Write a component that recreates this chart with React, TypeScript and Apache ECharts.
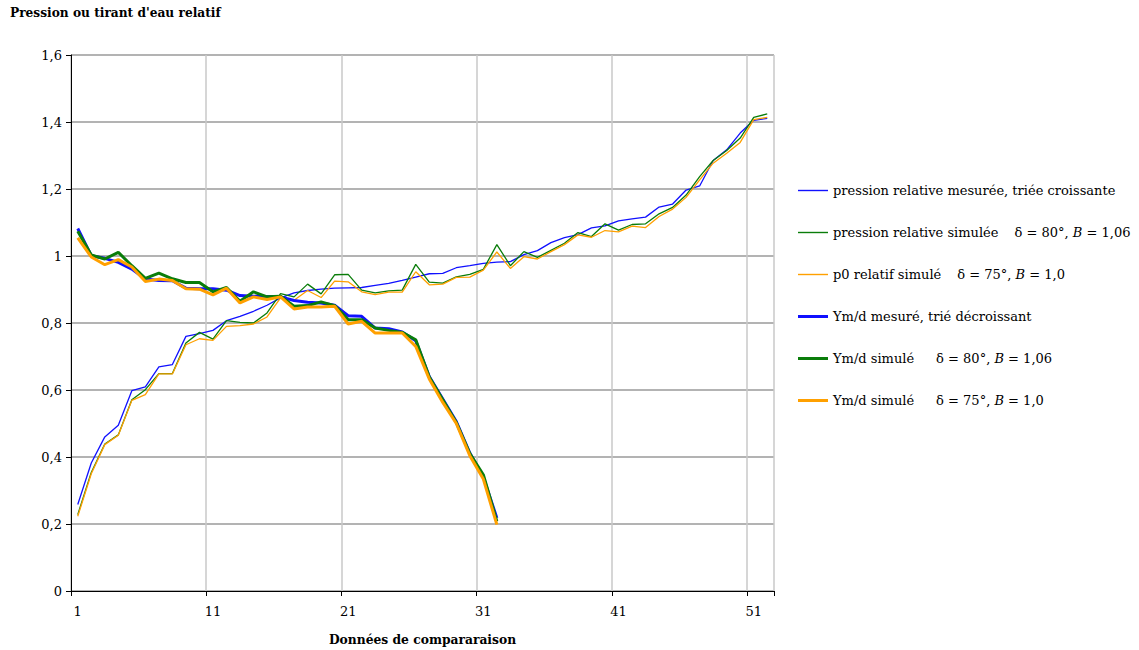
import React, { useEffect, useRef } from "react";
import * as echarts from "echarts";

const categories = [
  "1","2","3","4","5","6","7","8","9","10","11","12","13","14","15","16","17","18","19","20",
  "21","22","23","24","25","26","27","28","29","30","31","32","33","34","35","36","37","38","39","40",
  "41","42","43","44","45","46","47","48","49","50","51","52",
];

const pMesure = [
  0.258, 0.382, 0.46, 0.495, 0.598, 0.609, 0.669, 0.676, 0.76, 0.768,
  0.778, 0.807, 0.82, 0.835, 0.853, 0.875, 0.89, 0.897, 0.901, 0.904,
  0.905, 0.906, 0.912, 0.918, 0.927, 0.937, 0.947, 0.948, 0.965, 0.971,
  0.978, 0.982, 0.983, 1.004, 1.016, 1.04, 1.055, 1.064, 1.084, 1.09,
  1.105, 1.111, 1.116, 1.146, 1.155, 1.197, 1.209, 1.285, 1.317, 1.367,
  1.405, 1.411,
];

const pSim80 = [
  0.228, 0.354, 0.439, 0.466, 0.571, 0.601, 0.649, 0.649, 0.74, 0.772,
  0.752, 0.807, 0.802, 0.8, 0.83, 0.888, 0.878, 0.916, 0.887, 0.944,
  0.945, 0.898, 0.89, 0.896, 0.898, 0.975, 0.922, 0.919, 0.938, 0.945,
  0.96, 1.034, 0.971, 1.013, 0.996, 1.017, 1.038, 1.07, 1.058, 1.096,
  1.077, 1.094, 1.096, 1.126, 1.145, 1.182, 1.237, 1.285, 1.315, 1.352,
  1.414, 1.424,
];

const pSim75 = [
  0.223, 0.35, 0.437, 0.465, 0.569, 0.586, 0.648, 0.648, 0.735, 0.753,
  0.748, 0.79, 0.792, 0.797, 0.818, 0.875, 0.868, 0.897, 0.876, 0.925,
  0.923, 0.893, 0.885, 0.892, 0.892, 0.953, 0.914, 0.916, 0.936, 0.937,
  0.958, 1.012, 0.963, 0.998, 0.991, 1.013, 1.034, 1.063, 1.056, 1.076,
  1.072, 1.089, 1.085, 1.118, 1.14, 1.175, 1.227, 1.277, 1.307, 1.339,
  1.407, 1.414,
];

const ymMesure = [
  1.082, 1.001, 0.993, 0.981, 0.961, 0.931, 0.927, 0.926, 0.904, 0.902,
  0.902, 0.898, 0.882, 0.88, 0.879, 0.878, 0.867, 0.862, 0.86, 0.853,
  0.822, 0.82, 0.785, 0.783, 0.773, 0.747, 0.64, 0.573, 0.506, 0.412,
  0.34, 0.218,
];

const ymSim80 = [
  1.074, 1.003, 0.991, 1.011, 0.971, 0.933, 0.949, 0.932, 0.921, 0.921,
  0.893, 0.906, 0.865, 0.893, 0.878, 0.88, 0.85, 0.852, 0.863, 0.852,
  0.81, 0.81, 0.785, 0.778, 0.772, 0.75, 0.639, 0.571, 0.503, 0.41,
  0.347, 0.208,
];

const ymSim75 = [
  1.054, 0.997, 0.974, 0.989, 0.967, 0.924, 0.931, 0.927, 0.902, 0.901,
  0.884, 0.904, 0.86, 0.878, 0.87, 0.878, 0.842, 0.848, 0.848, 0.85,
  0.797, 0.805, 0.77, 0.77, 0.77, 0.73, 0.633, 0.563, 0.5, 0.404,
  0.334, 0.198,
];

const seriesNames = [
  "pression relative mesurée, triée croissante",
  "pression relative simulée",
  "p0 relatif simulé",
  "Ym/d mesuré, trié décroissant",
  "Ym/d simulé δ80",
  "Ym/d simulé δ75",
];

const legendLabels: Record<string, string> = {
  [seriesNames[0]]: "{a|pression relative mesurée, triée croissante}",
  [seriesNames[1]]: "{a|pression relative simulée}{s1| }{a|δ = 80°, }{i|B}{a| = 1,06}",
  [seriesNames[2]]: "{a|p0 relatif simulé}{s1| }{a|δ = 75°, }{i|B}{a| = 1,0}",
  [seriesNames[3]]: "{a|Ym/d mesuré, trié décroissant}",
  [seriesNames[4]]: "{a|Ym/d simulé}{s2| }{a|δ = 80°, }{i|B}{a| = 1,06}",
  [seriesNames[5]]: "{a|Ym/d simulé}{s2| }{a|δ = 75°, }{i|B}{a| = 1,0}",
};

const FONT = "'DejaVu Serif', 'Liberation Serif', serif";
const BLUE = "#1010ff";
const GREEN = "#0a7d0a";
const ORANGE = "#ffa000";
const THIN_ICON = "path://M0,0h30v1.4h-30z";
const THICK_ICON = "path://M0,0h30v3h-30z";

export default function App() {
  const ref = useRef<HTMLDivElement>(null);
  useEffect(() => {
    if (!ref.current) return;
    const chart = echarts.init(ref.current, undefined, { renderer: "svg" });
    const mk = (name: string, data: number[], color: string, width: number) => ({
      name,
      type: "line",
      data,
      symbol: "none",
      showSymbol: false,
      smooth: false,
      itemStyle: { color },
      lineStyle: { color, width },
      emphasis: { disabled: true },
    });
    chart.setOption({
      animation: false,
      backgroundColor: "#ffffff",
      title: {
        text: "Pression ou tirant d'eau relatif",
        left: 5,
        top: 2,
        textStyle: { fontFamily: FONT, fontSize: 12.2, fontWeight: "bold", color: "#000" },
      },
      grid: { left: 71, right: 365, top: 55, bottom: 59, containLabel: false },
      legend: {
        orient: "vertical",
        left: 793,
        top: 179,
        itemWidth: 30,
        itemHeight: 14,
        itemGap: 29,
        selectedMode: false,
        data: [
          { name: seriesNames[0], icon: THIN_ICON },
          { name: seriesNames[1], icon: THIN_ICON },
          { name: seriesNames[2], icon: THIN_ICON },
          { name: seriesNames[3], icon: THICK_ICON },
          { name: seriesNames[4], icon: THICK_ICON },
          { name: seriesNames[5], icon: THICK_ICON },
        ],
        formatter: (name: string) => legendLabels[name] || name,
        textStyle: {
          fontFamily: FONT,
          fontSize: 13,
          color: "#000",
          rich: {
            a: { fontFamily: FONT, fontSize: 13, color: "#000" },
            i: { fontFamily: FONT, fontSize: 13, color: "#000", fontStyle: "italic" },
            s1: { width: 16 },
            s2: { width: 22 },
          },
        },
      },
      xAxis: {
        type: "category",
        data: categories,
        boundaryGap: true,
        name: "Données de compararaison",
        nameLocation: "middle",
        nameGap: 42,
        nameTextStyle: { fontFamily: FONT, fontSize: 12.3, fontWeight: "bold", color: "#000" },
        axisLine: { lineStyle: { color: "#000", width: 1 } },
        axisTick: { show: true, interval: 9, length: 5, lineStyle: { color: "#000" } },
        axisLabel: {
          interval: 9,
          margin: 14,
          fontFamily: FONT,
          fontSize: 13,
          color: "#000",
        },
        splitLine: { show: true, interval: 9, lineStyle: { color: "#c8c8c8", width: 1.5 } },
      },
      yAxis: {
        type: "value",
        min: 0,
        max: 1.6,
        interval: 0.2,
        axisLine: { show: true, lineStyle: { color: "#000", width: 1 } },
        axisTick: { show: true, length: 5, lineStyle: { color: "#000" } },
        axisLabel: {
          margin: 9,
          fontFamily: FONT,
          fontSize: 13,
          color: "#000",
          formatter: (v: number) => String(Math.round(v * 10) / 10).replace(".", ","),
        },
        splitLine: { show: true, lineStyle: { color: "#9a9a9a", width: 1.5 } },
      },
      series: [
        mk(seriesNames[0], pMesure, BLUE, 1.3),
        mk(seriesNames[1], pSim80, GREEN, 1.3),
        mk(seriesNames[2], pSim75, ORANGE, 1.3),
        mk(seriesNames[3], ymMesure, BLUE, 3),
        mk(seriesNames[4], ymSim80, GREEN, 3),
        mk(seriesNames[5], ymSim75, ORANGE, 3),
      ],
    });
    return () => chart.dispose();
  }, []);
  return (
    <div
      ref={ref}
      style={{ position: "fixed", left: 0, top: 0, width: 1139, height: 650 }}
    />
  );
}
